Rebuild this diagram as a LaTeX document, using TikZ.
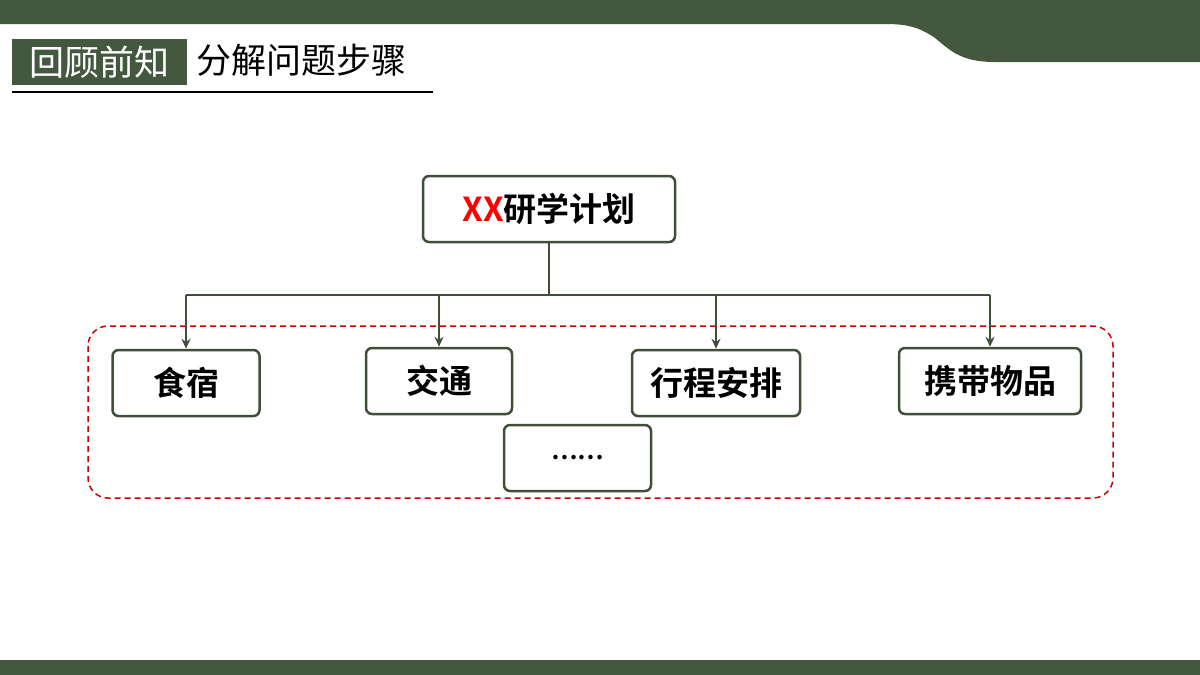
\documentclass[tikz,border=0pt]{standalone}
\usepackage{fontspec}
\setmainfont{Noto Sans CJK SC}
\newfontfamily\cjkb{Noto Sans CJK SC Bold}
\usetikzlibrary{arrows.meta}
\definecolor{dg}{HTML}{44573F}
\definecolor{bx}{HTML}{3F4F3A}
\tikzset{
 box/.style={draw=bx,line width=2.5pt,rounded corners=6pt,fill=white,inner sep=0pt,font=\cjkb\fontsize{33}{33}\selectfont},
 conn/.style={draw=bx,line width=1.5pt},
 arr/.style={conn,-{Stealth[length=10pt,width=9pt]}}
}
\begin{document}
\begin{tikzpicture}[x=1pt,y=-1pt]
\useasboundingbox (0,0) rectangle (1200,675);
\fill[dg] (0,0) -- (1200,0) -- (1200,62) -- (995,62) .. controls (960,62) and (950,50) .. (935,38) .. controls (915,24) and (900,24) .. (880,24) -- (0,24) -- cycle;
\fill[dg] (0,660) rectangle (1200,675);
\node[fill=dg,minimum width=175pt,minimum height=46pt,inner sep=0pt,text=white,font=\fontsize{35}{35}\selectfont] (h1) at (99.5,62) {回顾前知};
\node[anchor=west,inner sep=0pt,font=\fontsize{35}{35}\selectfont] (h2) at (196,60) {分解问题步骤};
\draw[line width=2pt] (12,92) -- (433,92);
\draw[red!80!black,dash pattern=on 6pt off 4pt,line width=1.5pt,rounded corners=20pt] (88,326) rectangle (1113,498);
\node[box,minimum width=252pt,minimum height=66pt] (top) at (549,209) {\textcolor{red}{XX}研学计划};
\node[box,minimum width=147pt,minimum height=66pt] (a) at (186,383) {食宿};
\node[box,minimum width=146pt,minimum height=66pt] (b) at (439,381) {交通};
\node[box,minimum width=168pt,minimum height=66pt] (c) at (716,383) {行程安排};
\node[box,minimum width=182pt,minimum height=66pt] (d) at (990,381) {携带物品};
\node[box,minimum width=147pt,minimum height=66pt,font=\cjkb\fontsize{24}{24}\selectfont] (e) at (577.5,458) {……};
\coordinate (j) at (549,295);
\draw[conn] (top.south) -- (j);
\draw[conn] (a.north |- j) -- (d.north |- j);
\foreach \n in {a,b,c,d} \draw[arr] (\n.north |- j) -- (\n.north);
\end{tikzpicture}
\end{document}
